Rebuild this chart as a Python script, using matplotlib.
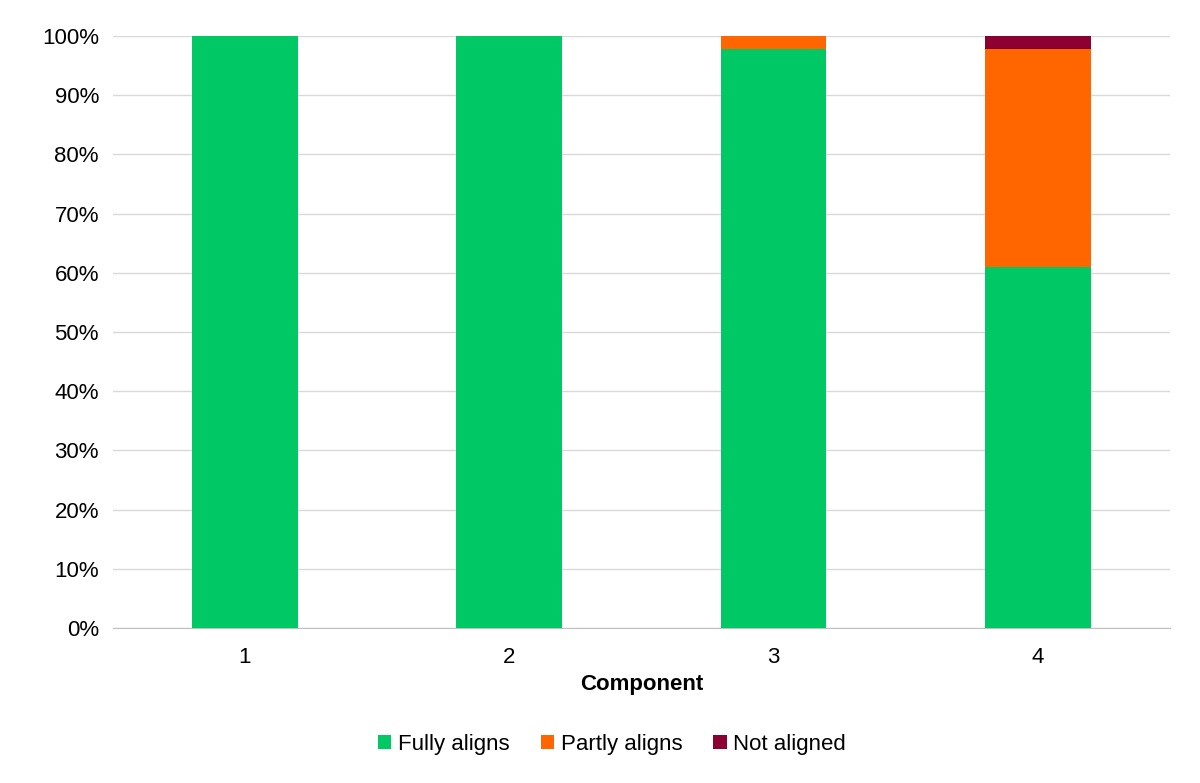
import matplotlib
matplotlib.use("Agg")
import matplotlib.pyplot as plt
import numpy as np

plt.rcParams['font.family'] = ['Liberation Sans', 'DejaVu Sans']

categories = ["1", "2", "3", "4"]
fully = [100, 100, 97.8, 61.0]
partly = [0, 0, 2.2, 36.8]
notal = [0, 0, 0, 2.2]

fig = plt.figure(figsize=(12, 7.83), dpi=100)
ax = fig.add_axes([0.094, 0.198, 0.881, 0.756])
x = np.arange(len(categories))
w = 0.4
ax.bar(x, fully, w, color="#00C864", label="Fully aligns", zorder=3)
ax.bar(x, partly, w, bottom=fully, color="#FF6600", label="Partly aligns", zorder=3)
bot = np.array(fully) + np.array(partly)
ax.bar(x, notal, w, bottom=bot, color="#8B0030", label="Not aligned", zorder=3)

ax.set_xlim(-0.5, 3.5)
ax.set_ylim(0, 100)
ax.set_yticks(range(0, 101, 10))
ax.set_yticklabels([f"{v}%" for v in range(0, 101, 10)])
ax.set_xticks(x)
ax.set_xticklabels(categories)
ax.yaxis.grid(True, color="#D9D9D9", linewidth=1, zorder=0)
for s in ["top", "right", "left"]:
    ax.spines[s].set_visible(False)
ax.spines["bottom"].set_color("#BFBFBF")
ax.tick_params(axis="both", length=0, labelsize=16)
ax.tick_params(axis="y", pad=10)
ax.tick_params(axis="x", pad=14)
ax.set_xlabel("Component", fontsize=16, fontweight="bold", labelpad=4)
fig.legend(loc="center", bbox_to_anchor=(0.51, 0.049), ncol=3, frameon=False,
           fontsize=16, handlelength=0.6, handleheight=0.6, handletextpad=0.3,
           columnspacing=1.4)
fig.savefig("out.png", dpi=100)
